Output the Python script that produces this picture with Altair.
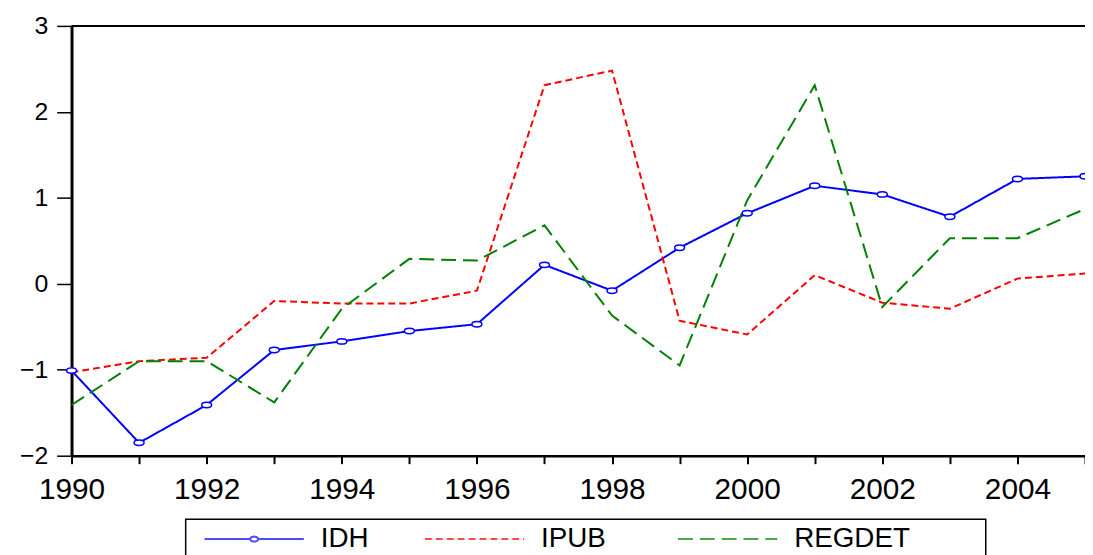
import altair as alt
import pandas as pd

years = list(range(1990, 2006))
idh = [-1.01, -1.85, -1.41, -0.77, -0.67, -0.55, -0.47, 0.22, -0.08, 0.42, 0.82, 1.14, 1.04, 0.78, 1.22, 1.25]
ipub = [-1.03, -0.90, -0.86, -0.20, -0.23, -0.23, -0.08, 2.31, 2.48, -0.43, -0.59, 0.10, -0.22, -0.29, 0.06, 0.12]
regdet = [-1.41, -0.90, -0.90, -1.38, -0.29, 0.29, 0.27, 0.68, -0.37, -0.95, 0.97, 2.31, -0.27, 0.53, 0.53, 0.87]
series = ["IDH", "IPUB", "REGDET"]
colors = ["#0000FF", "#FF0000", "#008000"]
dashes = [[1, 0], [7, 4], [15, 7]]
widths = [2, 2, 2.4]
y_ticks = [-2, -1, 0, 1, 2, 3]

rows = []
for name, vals in zip(series, [idh, ipub, regdet]):
    for yr, v in zip(years, vals):
        rows.append({"year": yr, "value": v, "series": name})
df = pd.DataFrame(rows)
top_df = pd.DataFrame({"value": [max(y_ticks)]})

FONT = "Liberation Sans"
NB = "\u00a0"
ZW = "\u200b"

label_expr = (
    "datum.label == 'IDH' ? datum.label + '" + NB * 3 + ZW + "' : "
    "datum.label == 'IPUB' ? datum.label + '" + NB * 5 + ZW + "' : datum.label + '" + NB * 9 + ZW + "'"
)
leg = alt.Legend(title=None, labelExpr=label_expr)

x_enc = alt.X(
    "year:Q",
    scale=alt.Scale(domain=[years[0], years[-1]], nice=False, zero=False),
    axis=alt.Axis(
        values=years, format="d", title=None, grid=False,
        labelExpr="datum.value % 2 == 0 ? datum.label : ''",
        domainColor="black", domainWidth=2.5,
        tickColor="black", tickWidth=2, tickSize=8,
        labelFont=FONT, labelFontSize=30, labelColor="black",
        labelPadding=11, labelFlush=False, labelOverlap=False,
    ),
)
y_enc = alt.Y(
    "value:Q",
    scale=alt.Scale(domain=[y_ticks[0], y_ticks[-1]], nice=False, zero=False),
    axis=alt.Axis(
        values=y_ticks, format="d", title=None, grid=False,
        domainColor="black", domainWidth=3,
        tickColor="black", tickWidth=1.5, tickSize=15,
        labelFont=FONT, labelFontSize=25, labelColor="black",
        labelPadding=9, labelFlush=False, labelOverlap=False,
    ),
)

lines = alt.Chart(df).mark_line().encode(
    x=x_enc,
    y=y_enc,
    color=alt.Color("series:N", scale=alt.Scale(domain=series, range=colors), legend=leg),
    strokeDash=alt.StrokeDash("series:N", scale=alt.Scale(domain=series, range=dashes), legend=leg),
    strokeWidth=alt.StrokeWidth("series:N", scale=alt.Scale(domain=series, range=widths), legend=None),
)

ellipse = "M-1,0A1,0.55 0 1,1 1,0A1,0.55 0 1,1 -1,0Z"
points = alt.Chart(df).transform_filter(alt.datum.series == "IDH").mark_point(
    shape=ellipse, size=100, filled=True, fill="white", stroke="#0000FF",
    strokeWidth=1.5, opacity=1,
).encode(x="year:Q", y="value:Q")

# legend-only layer: gives the IDH legend entry its circle marker
legend_line_circle = "M-1,0H-0.08A0.08,0.05 0 1,1 0.08,0A0.08,0.05 0 1,1 -0.08,0M0.08,0H1"
legend_shapes = alt.Chart(df).transform_filter("false").mark_point(filled=False).encode(
    x="year:Q", y="value:Q",
    shape=alt.Shape("series:N", scale=alt.Scale(domain=series, range=[legend_line_circle, "stroke", "stroke"]), legend=leg),
)

top_rule = alt.Chart(top_df).mark_rule(color="black", strokeWidth=2).encode(y="value:Q")

chart = (
    alt.layer(lines, points, legend_shapes, top_rule)
    .properties(
        width=1021, height=433,
        padding={"left": 64, "top": 16, "right": 0, "bottom": 98},
        autosize=alt.AutoSizeParams(type="none"),
        background="white",
    )
    .configure_view(stroke=None)
    .configure_legend(
        orient="none", legendX=115, legendY=497, direction="horizontal",
        symbolType="stroke", symbolSize=10000, symbolStrokeWidth=2, clipHeight=28,
        symbolOffset=12, labelOffset=16, columnPadding=20,
        labelFont=FONT, labelFontSize=28, labelColor="black", labelLimit=400,
        strokeColor="black", strokeWidth=1.5, fillColor="white", padding=6,
    )
)

chart.save("out.html", embed_options={"renderer": "svg", "actions": False})
